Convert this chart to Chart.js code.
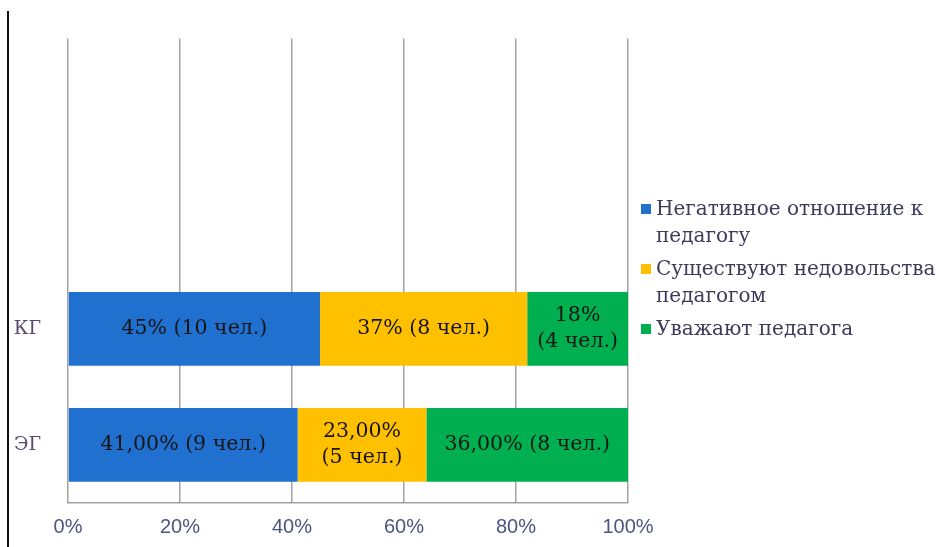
<!DOCTYPE html>
<html>
<head>
<meta charset="utf-8">
<script src="https://cdn.jsdelivr.net/npm/chart.js@4.4.1/dist/chart.umd.min.js"></script>
<style>
  html, body { margin: 0; padding: 0; background: #fff; }
  #wrap { position: relative; width: 938px; height: 547px; overflow: hidden; }
  #border { position: absolute; left: 7px; top: 11px; width: 2px; height: 536px; background: #111; }
  #legend { position: absolute; left: 640px; top: 195px; width: 330px; font-family: "DejaVu Serif", "Liberation Serif", serif; font-size: 20px; color: #3c3c5a; white-space: nowrap; }
  .item { position: relative; padding-left: 16px; line-height: 27px; margin-bottom: 6px; }
  .box { position: absolute; left: 1px; top: 9px; width: 10px; height: 10px; }
</style>
</head>
<body>
<div id="wrap">
  <canvas id="c" width="938" height="547"></canvas>
  <div id="border"></div>
  <div id="legend"></div>
</div>
<script>
const categories = ['КГ', 'ЭГ'];
const seriesNames = ['Негативное отношение к педагогу', 'Существуют недовольства педагогом', 'Уважают педагога'];
const legendLines = [['Негативное отношение к', 'педагогу'], ['Существуют недовольства', 'педагогом'], ['Уважают педагога']];
const seriesColors = ['#2070D0', '#FFC000', '#00B050'];
const negativeValues = [45, 41];
const dissatisfiedValues = [37, 23];
const respectValues = [18, 36];
const negativeLabels = [['45% (10 чел.)'], ['41,00% (9 чел.)']];
const dissatisfiedLabels = [['37% (8 чел.)'], ['23,00%', '(5 чел.)']];
const respectLabels = [['18%', '(4 чел.)'], ['36,00% (8 чел.)']];
const xTicks = [0, 20, 40, 60, 80, 100];

// Two empty category slots above the groups (as in the original layout)
const labels = ['', ''].concat(categories);
const pad = v => [null, null].concat(v);
const seriesValues = [negativeValues, dissatisfiedValues, respectValues];
const seriesLabels = [negativeLabels, dissatisfiedLabels, respectLabels];

const datasets = seriesNames.map((n, i) => ({
  label: n,
  data: pad(seriesValues[i]),
  backgroundColor: seriesColors[i],
  borderWidth: 0,
  barPercentage: 0.635,
  categoryPercentage: 1.0,
  valueLabels: [null, null].concat(seriesLabels[i])
}));

const labelPlugin = {
  id: 'valueLabels',
  afterDatasetsDraw(chart) {
    const ctx = chart.ctx;
    ctx.save();
    ctx.font = '20.5px "DejaVu Serif", "Liberation Serif", serif';
    ctx.fillStyle = '#151515';
    ctx.textAlign = 'center';
    ctx.textBaseline = 'middle';
    chart.data.datasets.forEach((ds, di) => {
      const meta = chart.getDatasetMeta(di);
      meta.data.forEach((bar, j) => {
        const lines = ds.valueLabels[j];
        if (!lines || ds.data[j] == null) return;
        const cx = (bar.x + bar.base) / 2;
        const lh = 26;
        const y0 = bar.y - (lines.length - 1) * lh / 2;
        lines.forEach((t, k) => ctx.fillText(t, cx, y0 + k * lh));
      });
    });
    ctx.restore();
  }
};

new Chart(document.getElementById('c'), {
  type: 'bar',
  data: { labels, datasets },
  plugins: [labelPlugin],
  options: {
    indexAxis: 'y',
    responsive: false,
    animation: false,
    layout: { padding: { left: 0, right: 310, top: 35, bottom: 0 } },
    plugins: { legend: { display: false }, tooltip: { enabled: false } },
    scales: {
      x: {
        stacked: true,
        min: 0, max: 100,
        afterBuildTicks: s => { s.ticks = xTicks.map(v => ({ value: v })); },
        afterFit: s => { s.height = 44; },
        grid: { color: '#a3a3a3', lineWidth: 1.5, drawTicks: false },
        border: { display: true, color: '#a3a3a3', width: 1.5 },
        ticks: {
          padding: 12,
          color: '#4a5680',
          font: { family: '"Liberation Sans", Arial, sans-serif', size: 20 },
          callback: v => v + '%'
        }
      },
      y: {
        stacked: true,
        afterFit: s => { s.width = 68; },
        grid: { display: false, drawTicks: false },
        border: { display: false },
        ticks: {
          padding: 27,
          color: '#5a4a70',
          font: { family: '"DejaVu Serif", "Liberation Serif", serif', size: 19 }
        }
      }
    }
  }
});

const leg = document.getElementById('legend');
legendLines.forEach((lines, i) => {
  const d = document.createElement('div');
  d.className = 'item';
  const b = document.createElement('span');
  b.className = 'box';
  b.style.background = seriesColors[i];
  d.appendChild(b);
  lines.forEach((t, k) => {
    if (k) d.appendChild(document.createElement('br'));
    d.appendChild(document.createTextNode(t));
  });
  leg.appendChild(d);
});
</script>
</body>
</html>
